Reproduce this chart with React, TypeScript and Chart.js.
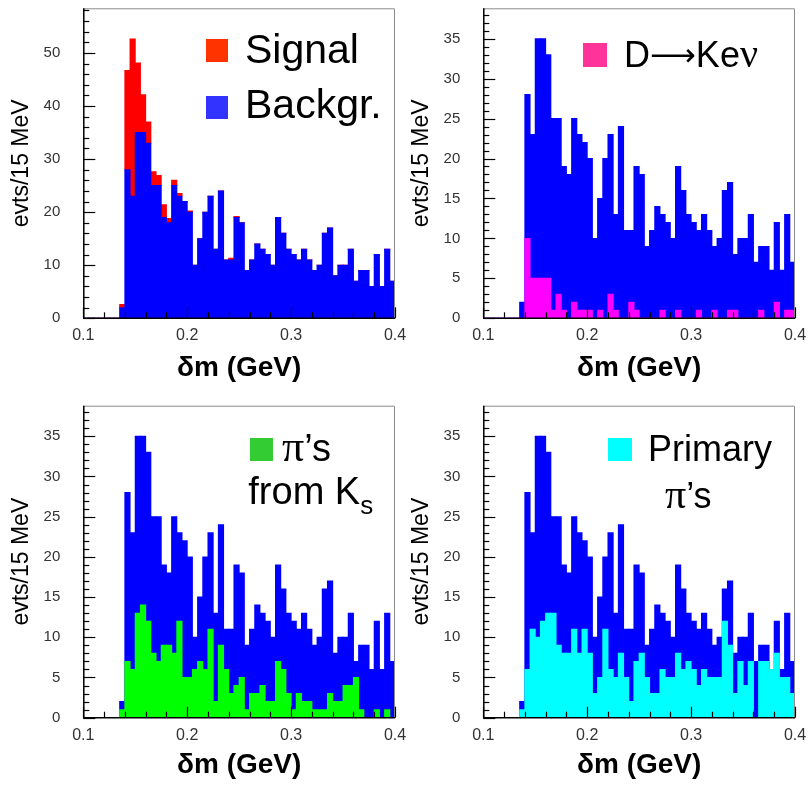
import { useEffect, useRef } from "react";
import { Chart, registerables } from "chart.js";

Chart.register(...registerables);

// ---------- data ----------
const X_MIN = 0.1;
const X_MAX = 0.4;
const BIN_WIDTH = 0.005;
const N_BINS = 60;
const binCenters = Array.from({ length: N_BINS }, (_, i) => +(X_MIN + BIN_WIDTH * (i + 0.5)).toFixed(4));
const xTickLabels = ["0.1", "0.2", "0.3", "0.4"];

const background = [
  0, 0, 0, 0, 0, 0, 0, 2, 28, 23,
  35, 35, 33, 25, 25, 19, 18, 25, 23, 22,
  20, 10, 15, 20, 23, 13, 24, 11, 11, 19,
  18, 9, 11, 14, 13, 12, 10, 19, 16, 13,
  12, 11, 13, 11, 9, 10, 16, 17, 8, 10,
  10, 13, 7, 9, 9, 6, 12, 6, 13, 7,
];
const signal = [
  0, 0, 0, 0, 0, 0, 0, 0.6, 18.7, 29.6,
  13.1, 7.1, 4.0, 2.6, 1.9, 2.4, 0.8, 1.0, 0.5, 0,
  0.2, 0, 0, 0, 0, 0, 0, 0, 0.3, 0.2,
  0, 0, 0, 0, 0, 0, 0, 0, 0, 0,
  0, 0, 0, 0, 0, 0, 0, 0, 0, 0,
  0, 0, 0, 0, 0, 0, 0, 0, 0, 0,
];
const dKenu = [
  0, 0, 0, 0, 0, 0, 0, 0, 10, 5,
  5, 5, 5, 1, 3, 1, 0, 2, 1, 1,
  1, 0, 1, 0, 3, 1, 0, 0, 2, 1,
  0, 0, 0, 0, 1, 0, 0, 1, 0, 0,
  0, 1, 0, 0, 1, 0, 0, 1, 1, 0,
  0, 0, 0, 1, 0, 0, 2, 0, 1, 1,
];
const pionsFromKs = [
  0, 0, 0, 0, 0, 0, 0, 1, 7, 6,
  13, 14, 12, 8, 7, 9, 9, 8, 12, 5,
  5, 6, 7, 6, 11, 2, 9, 6, 3, 4,
  5, 1, 3, 3, 4, 2, 2, 7, 6, 3,
  1, 3, 2, 2, 1, 1, 1, 3, 2, 2,
  4, 4, 5, 1, 0, 0, 1, 0, 1, 0,
];
const primaryPions = [
  0, 0, 0, 0, 0, 0, 0, 1, 6, 11,
  10, 12, 13, 13, 9, 8, 8, 11, 8, 11,
  8, 3, 5, 11, 6, 5, 8, 5, 2, 7,
  8, 5, 3, 3, 6, 5, 5, 8, 6, 7,
  6, 4, 6, 5, 5, 5, 12, 9, 3, 7,
  4, 7, 0, 7, 7, 6, 8, 5, 5, 3,
];

const yTitle = "evts/15 MeV";
const xTitle = "δm (GeV)";

// ---------- styling ----------
const SANS = '"Liberation Sans", Arial, Helvetica, sans-serif';
const SERIF = '"Liberation Serif", "Times New Roman", serif';
const DEJAVU = '"DejaVu Sans", sans-serif';
const BLUE = "#0000ff";

type Seg = { t: string; font: string; dy?: number };
type LegendLine = { x: number; y: number; segs: Seg[] };
type LegendItem = { color: string; box: [number, number, number, number]; lines: LegendLine[] };

type PanelCfg = {
  left: number;
  top: number;
  width: number;
  height: number;
  padTop: number;
  xAxisHeight: number;
  yMax: number;
  yMajor: number;
  yMinor: number;
  stacked: boolean;
  datasets: { data: number[]; color: string }[];
  legend: LegendItem[];
};

function drawSegs(ctx: CanvasRenderingContext2D, segs: Seg[], x: number, y: number) {
  let cx = x;
  for (const s of segs) {
    ctx.font = s.font;
    ctx.fillText(s.t, cx, y + (s.dy || 0));
    cx += ctx.measureText(s.t).width;
  }
}

function makeFramePlugin(cfg: PanelCfg) {
  return {
    id: "rootFrame",
    afterDatasetsDraw(chart: any) {
      const { ctx, chartArea: a, scales } = chart;
      const x = scales.x;
      const y = scales.y;
      ctx.save();
      // grey top / right frame
      ctx.strokeStyle = "#8c8c8c";
      ctx.lineWidth = 1;
      ctx.beginPath();
      ctx.moveTo(a.left, a.top + 0.5);
      ctx.lineTo(a.right - 0.5, a.top + 0.5);
      ctx.lineTo(a.right - 0.5, a.bottom);
      ctx.stroke();
      // black axes
      ctx.strokeStyle = "#000";
      ctx.lineWidth = 1.5;
      ctx.beginPath();
      ctx.moveTo(a.left + 0.5, a.top);
      ctx.lineTo(a.left + 0.5, a.bottom);
      ctx.lineTo(a.right, a.bottom);
      ctx.stroke();
      // x ticks (inside)
      ctx.lineWidth = 1.2;
      const nx = Math.round((X_MAX - X_MIN) / 0.02);
      for (let i = 0; i <= nx; i++) {
        const v = X_MIN + i * 0.02;
        const px = Math.round(x.getPixelForValue(v)) + 0.5;
        const len = i % 5 === 0 ? 11 : 6;
        ctx.beginPath();
        ctx.moveTo(px, a.bottom);
        ctx.lineTo(px, a.bottom - len);
        ctx.stroke();
      }
      // y ticks (inside)
      const ny = Math.floor(cfg.yMax / cfg.yMinor + 1e-9);
      const perMajor = Math.round(cfg.yMajor / cfg.yMinor);
      for (let i = 0; i <= ny; i++) {
        const v = i * cfg.yMinor;
        const py = Math.round(y.getPixelForValue(v)) + 0.5;
        const len = i % perMajor === 0 ? 12 : 6;
        ctx.beginPath();
        ctx.moveTo(a.left, py);
        ctx.lineTo(a.left + len, py);
        ctx.stroke();
      }
      // legend
      ctx.textBaseline = "alphabetic";
      ctx.textAlign = "left";
      for (const item of cfg.legend) {
        ctx.fillStyle = item.color;
        ctx.fillRect(a.left + item.box[0], a.top + item.box[1], item.box[2], item.box[3]);
        ctx.fillStyle = "#000";
        for (const ln of item.lines) drawSegs(ctx, ln.segs, a.left + ln.x, a.top + ln.y);
      }
      ctx.restore();
    },
  };
}

function buildConfig(cfg: PanelCfg): any {
  return {
    type: "bar",
    data: {
      datasets: cfg.datasets.map((d) => ({
        data: binCenters.map((c, i) => ({ x: c, y: d.data[i] })),
        backgroundColor: d.color,
        borderWidth: 0,
        barPercentage: 1,
        categoryPercentage: 1,
        inflateAmount: 0.5,
        grouped: false,
      })),
    },
    options: {
      responsive: false,
      animation: false,
      events: [],
      layout: { padding: { left: 0, right: cfg.width - 395, top: cfg.padTop, bottom: 0 } },
      plugins: { legend: { display: false }, tooltip: { enabled: false }, title: { display: false } },
      scales: {
        x: {
          type: "linear",
          min: X_MIN,
          max: X_MAX,
          offset: false,
          stacked: cfg.stacked,
          grid: { display: false, drawTicks: false },
          border: { display: false },
          ticks: {
            stepSize: 0.1,
            autoSkip: false,
            maxRotation: 0,
            includeBounds: false,
            padding: 8,
            color: "#333",
            font: { family: SANS, size: 16 },
            callback: (v: number) => {
              const idx = Math.round((v - X_MIN) / 0.1);
              return xTickLabels[idx] ?? "";
            },
          },
          title: {
            display: true,
            text: xTitle,
            color: "#000",
            font: { family: SANS, size: 28, weight: "bold" },
            padding: { top: 0, bottom: 10 },
          },
          afterFit: (s: any) => {
            s.height = cfg.xAxisHeight;
            s.paddingLeft = 0;
            s.paddingRight = 0;
          },
        },
        y: {
          min: 0,
          max: cfg.yMax,
          stacked: cfg.stacked,
          grid: { display: false, drawTicks: false },
          border: { display: false },
          ticks: {
            stepSize: cfg.yMajor,
            includeBounds: false,
            padding: 23,
            color: "#333",
            font: { family: SANS, size: 15 },
          },
          title: {
            display: true,
            text: yTitle,
            color: "#000",
            font: { family: SANS, size: 23 },
            padding: { top: 8, bottom: 0 },
          },
          afterFit: (s: any) => {
            s.width = 83.3;
            s.paddingTop = 0;
            s.paddingBottom = 0;
          },
        },
      },
    },
    plugins: [makeFramePlugin(cfg)],
  };
}

const panels: PanelCfg[] = [
  {
    left: 0,
    top: 0,
    width: 409,
    height: 395,
    padTop: 8.3,
    xAxisHeight: 395 - 318.3,
    yMax: 58.4,
    yMajor: 10,
    yMinor: 2,
    stacked: true,
    datasets: [
      { data: background, color: BLUE },
      { data: signal, color: "#ff0000" },
    ],
    legend: [
      {
        color: "#ff3300",
        box: [122.7, 30.7, 22, 23],
        lines: [{ x: 161.7, y: 54.7, segs: [{ t: "Signal", font: `41px ${SANS}` }] }],
      },
      {
        color: "#3333ff",
        box: [122.7, 87.7, 22, 23],
        lines: [{ x: 161.7, y: 109.7, segs: [{ t: "Backgr.", font: `41px ${SANS}` }] }],
      },
    ],
  },
  {
    left: 400,
    top: 0,
    width: 409,
    height: 395,
    padTop: 8.3,
    xAxisHeight: 395 - 318.3,
    yMax: 38.8,
    yMajor: 5,
    yMinor: 1,
    stacked: false,
    datasets: [
      { data: dKenu, color: "#ff00ff" },
      { data: background, color: BLUE },
    ],
    legend: [
      {
        color: "#ff3399",
        box: [99.7, 34.7, 24, 24],
        lines: [
          {
            x: 140.7,
            y: 58.7,
            segs: [
              { t: "D", font: `36px ${SANS}` },
              { t: "⟶", font: `32px ${DEJAVU}`, dy: -1 },
              { t: "Ke", font: `36px ${SANS}` },
              { t: "ν", font: `40px ${SERIF}` },
            ],
          },
        ],
      },
    ],
  },
  {
    left: 0,
    top: 397,
    width: 409,
    height: 395,
    padTop: 8.7,
    xAxisHeight: 395 - 320.7,
    yMax: 38.8,
    yMajor: 5,
    yMinor: 1,
    stacked: false,
    datasets: [
      { data: pionsFromKs, color: "#00ff00" },
      { data: background, color: BLUE },
    ],
    legend: [
      {
        color: "#33cc33",
        box: [166.7, 32.3, 23, 23],
        lines: [
          {
            x: 198.7,
            y: 55,
            segs: [
              { t: "π", font: `44px ${SERIF}` },
              { t: "’s", font: `38px ${SANS}` },
            ],
          },
          {
            x: 165,
            y: 98.3,
            segs: [
              { t: "from K", font: `38px ${SANS}` },
              { t: "s", font: `26px ${SANS}`, dy: 10 },
            ],
          },
        ],
      },
    ],
  },
  {
    left: 400,
    top: 397,
    width: 409,
    height: 395,
    padTop: 8.7,
    xAxisHeight: 395 - 320.7,
    yMax: 38.8,
    yMajor: 5,
    yMinor: 1,
    stacked: false,
    datasets: [
      { data: primaryPions, color: "#00ffff" },
      { data: background, color: BLUE },
    ],
    legend: [
      {
        color: "#00ffff",
        box: [124.7, 32.3, 24, 23],
        lines: [
          { x: 164.7, y: 55, segs: [{ t: "Primary", font: `36px ${SANS}` }] },
          {
            x: 181.7,
            y: 102.3,
            segs: [
              { t: "π", font: `42px ${SERIF}` },
              { t: "’s", font: `36px ${SANS}` },
            ],
          },
        ],
      },
    ],
  },
];

function HistPanel({ cfg }: { cfg: PanelCfg }) {
  const ref = useRef<HTMLCanvasElement>(null);
  useEffect(() => {
    if (!ref.current) return;
    const chart = new Chart(ref.current, buildConfig(cfg));
    return () => chart.destroy();
  }, [cfg]);
  return (
    <canvas
      ref={ref}
      width={cfg.width}
      height={cfg.height}
      style={{ position: "absolute", left: cfg.left, top: cfg.top, width: cfg.width, height: cfg.height, display: "block" }}
    />
  );
}

export default function App() {
  return (
    <div style={{ position: "absolute", left: 0, top: 0, width: 809, height: 787, background: "#fff", overflow: "hidden" }}>
      {panels.map((p, i) => (
        <HistPanel key={i} cfg={p} />
      ))}
    </div>
  );
}
